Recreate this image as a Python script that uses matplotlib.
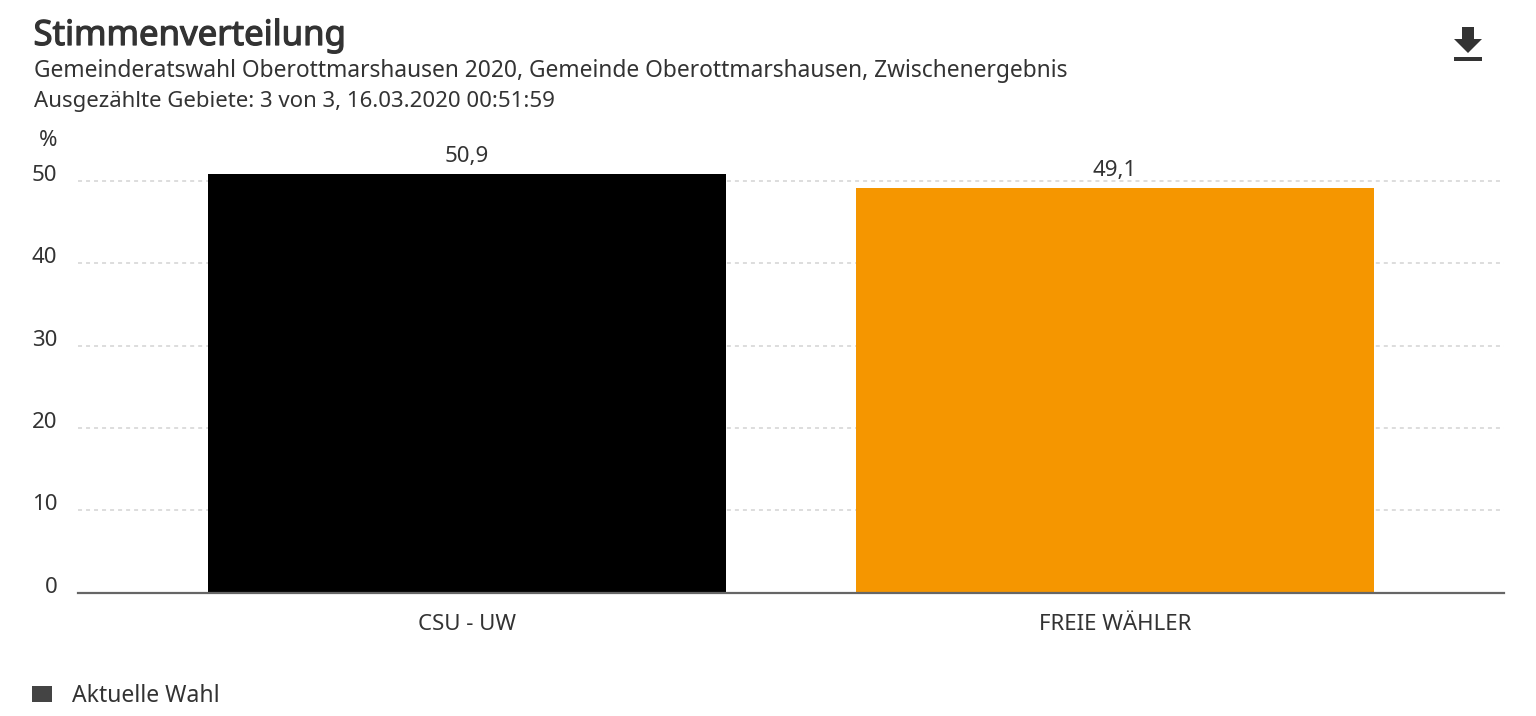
import matplotlib
matplotlib.use("Agg")
import matplotlib.pyplot as plt
import matplotlib.patheffects as pe
from matplotlib.patches import Polygon, Rectangle

parties = ["CSU - UW", "FREIE WÄHLER"]
shares = [50.9, 49.1]
share_labels = ["50,9", "49,1"]
bar_colors = ["#000000", "#f59600"]
y_ticks = [0, 10, 20, 30, 40, 50]

title = "Stimmenverteilung"
subtitle_1 = "Gemeinderatswahl Oberottmarshausen 2020, Gemeinde Oberottmarshausen, Zwischenergebnis"
subtitle_2 = "Ausgezählte Gebiete: 3 von 3, 16.03.2020 00:51:59"
legend_label = "Aktuelle Wahl"

W, H = 1536, 716
TEXT = "#333333"

plt.rcParams["font.family"] = ["Noto Sans", "DejaVu Sans"]

fig = plt.figure(figsize=(W / 100, H / 100), dpi=100)


def fx(px):
    return px / W


def fy(py):
    return 1 - py / H


# axes box, measured in pixels off the reference
left, right, top, bottom = 78, 1504, 164.5, 592.5
ax = fig.add_axes([fx(left), fy(bottom), fx(right - left), (bottom - top) / H])

ax.bar(range(len(parties)), shares, width=0.8, color=bar_colors, zorder=3)
ax.set_xlim(-0.6, 1.6)
ax.set_ylim(0, 52)

for i, label in enumerate(share_labels):
    ax.annotate(label, (i, shares[i]), xytext=(0, 5), textcoords="offset points",
                ha="center", va="bottom", fontsize=16, color=TEXT)

ax.set_xticks(range(len(parties)), parties)
ax.set_yticks(y_ticks)
ax.tick_params(axis="x", length=0, pad=15.5, labelsize=16, labelcolor=TEXT)
ax.tick_params(axis="y", length=0, labelleft=False)
for v in y_ticks:
    ax.annotate(str(v), (0, v), xycoords=ax.get_yaxis_transform(), xytext=(-15, 3.8),
                textcoords="offset points", ha="right", va="center",
                fontsize=16, color=TEXT)

ax.grid(axis="y", color="#dddddd", linewidth=1.4, linestyle=(0, (2.06, 2.06)), zorder=1)
ax.set_axisbelow(True)
for name in ["top", "left", "right"]:
    ax.spines[name].set_visible(False)
ax.spines["bottom"].set_color("#666666")
ax.spines["bottom"].set_linewidth(1.6)
ax.spines["bottom"].set_zorder(4)
ax.yaxis.get_gridlines()[0].set_visible(False)

# Noto Sans has no heavier weight here, so thicken the title with a thin stroke
fig.text(fx(33.5), fy(36), title, fontsize=25, color=TEXT, va="center",
         path_effects=[pe.withStroke(linewidth=0.9, foreground=TEXT)])
fig.text(fx(34), fy(71), subtitle_1, fontsize=16.4, color=TEXT, va="center")
fig.text(fx(34), fy(101), subtitle_2, fontsize=16, color=TEXT, va="center")
fig.text(fx(57.5), fy(140), "%", fontsize=16, color=TEXT, ha="right", va="center")

# legend
fig.add_artist(Rectangle((fx(32), fy(702)), 20 / W, 16 / H, color="#444444", linewidth=0,
                         transform=fig.transFigure))
fig.text(fx(72), fy(696), legend_label, fontsize=16.5, color=TEXT, va="center")

# download icon
arrow = [(1462, 27), (1474, 27), (1474, 39), (1482, 39), (1468, 53), (1454, 39), (1462, 39)]
fig.add_artist(Polygon([(fx(x), fy(y)) for x, y in arrow], closed=True, color=TEXT,
                       linewidth=0, transform=fig.transFigure))
fig.add_artist(Rectangle((fx(1454), fy(61)), 28 / W, 4 / H, color=TEXT, linewidth=0,
                         transform=fig.transFigure))

fig.savefig("out.png", dpi=100)
